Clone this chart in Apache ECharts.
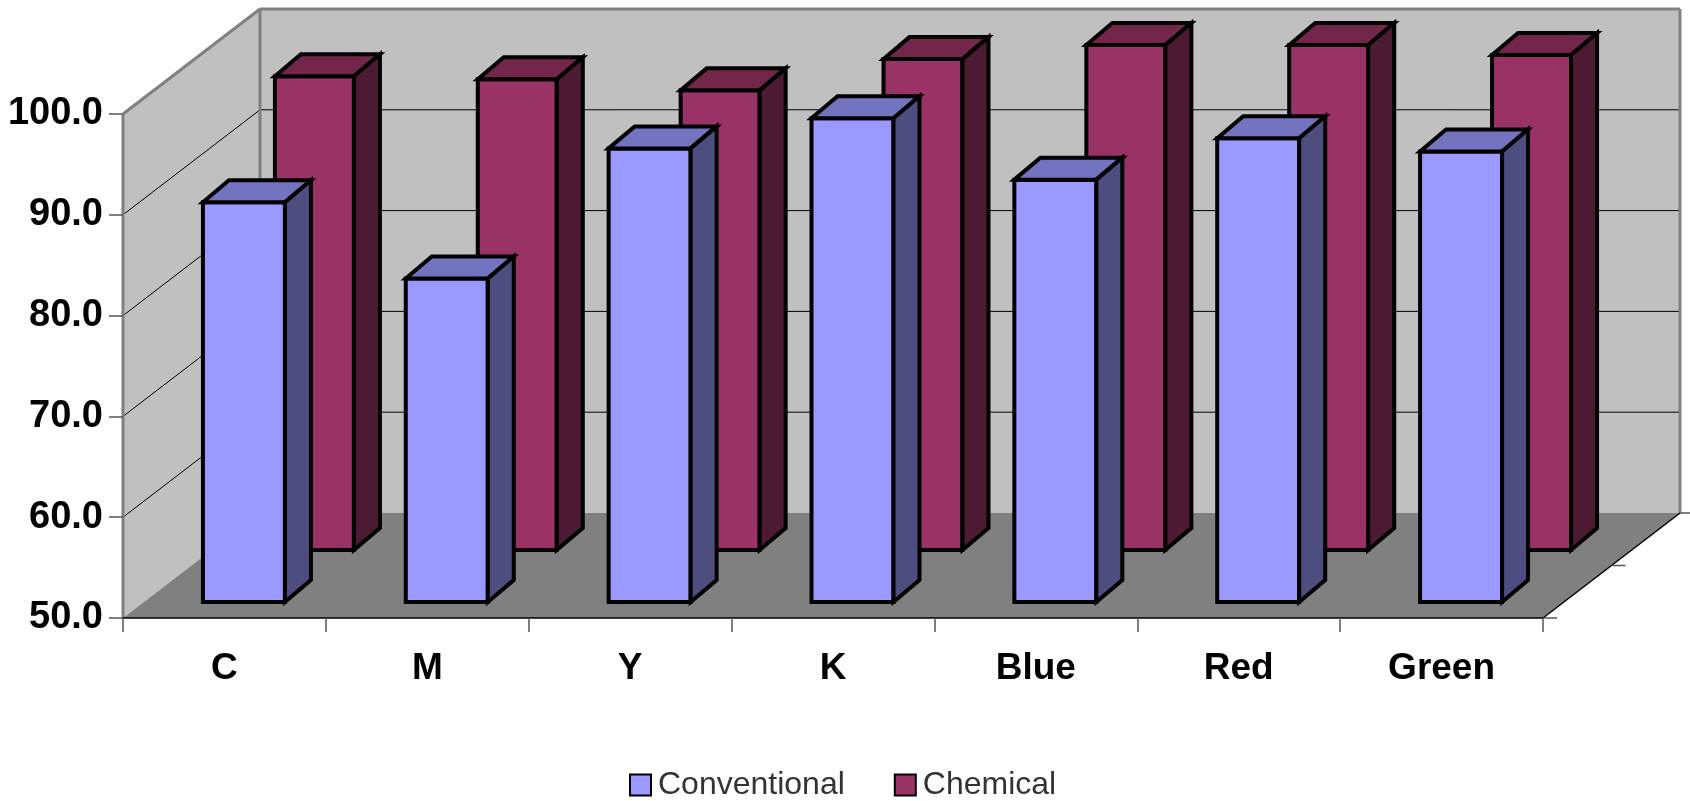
<!DOCTYPE html>
<html>
<head>
<meta charset="utf-8">
<title>Conventional vs Chemical</title>
<script src="https://cdn.jsdelivr.net/npm/echarts@6/dist/echarts.min.js"></script>
<style>
  html, body { margin: 0; padding: 0; background: #fff; }
  #chart { width: 1690px; height: 801px; }
</style>
</head>
<body>
<div id="chart"></div>
<script>
const categories = ['C', 'M', 'Y', 'K', 'Blue', 'Red', 'Green']
const conventional = [89.65, 82.1, 95.0, 98.0, 91.9, 96.0, 94.7]
const chemical = [97.0, 96.7, 95.6, 98.7, 100.1, 100.1, 99.1]
const yTicks = [50, 60, 70, 80, 90, 100]

// oblique projection of the fake 3D box, in pixels
const BACK = [137, -105]
const FACE = [26, -22]
const GREY = '#808080'

const chart = echarts.init(document.getElementById('chart'))

const line = (a, b, color, width) => ({
  type: 'line',
  shape: { x1: a[0], y1: a[1], x2: b[0], y2: b[1] },
  style: { stroke: color, lineWidth: width }
})

const poly = (points, fill, stroke, width) => ({
  type: 'polygon',
  shape: { points },
  style: { fill, stroke, lineWidth: width, lineJoin: 'miter' }
})

const back = p => [p[0] + BACK[0], p[1] + BACK[1]]

const renderWalls = (params, api) => {
  // category coords snap to band centres, so go half a band out from the first and last
  const band = api.size([1, 0])[0]
  const last = categories.length - 1
  const leftAt = v => { const p = api.coord([0, v]); return [p[0] - band / 2, p[1]] }
  const rightAt = v => { const p = api.coord([last, v]); return [p[0] + band / 2, p[1]] }
  const fl = leftAt(50)
  const tl = leftAt(100)
  const fr = rightAt(50)
  const tr = rightAt(100)
  const mid = [(fr[0] + back(fr)[0]) / 2, (fr[1] + back(fr)[1]) / 2]
  const children = [
    poly([fl, tl, back(tl), back(fl)], '#c0c0c0', 'none', 0),
    poly([back(fl), back(tl), back(tr), back(fr)], '#c0c0c0', 'none', 0),
    poly([fl, back(fl), back(fr), fr], GREY, 'none', 0)
  ]
  yTicks.slice(1, -1).forEach(t => {
    const a = leftAt(t)
    const b = rightAt(t)
    children.push(line(a, back(a), '#000', 1))
    children.push(line(back(a), back(b), '#000', 1))
  })
  children.push(line(fl, tl, GREY, 3))
  children.push(line(tl, back(tl), GREY, 3))
  children.push(line(back(fl), back(tl), GREY, 3))
  children.push(line(back(tl), back(tr), GREY, 3))
  children.push(line(back(tr), back(fr), GREY, 3))
  // floor edge on the right and its depth ticks
  children.push(line(fr, back(fr), '#000', 1.5))
  children.push(line(fr, [fr[0] + 14, fr[1]], '#555', 1.5))
  children.push(line(mid, [mid[0] + 14, mid[1]], '#555', 1.5))
  children.push(line(back(fr), [back(fr)[0] + 14, back(fr)[1]], '#555', 1.5))
  return { type: 'group', children }
}

const bar = (offset, width, colors) => (params, api) => {
  const i = api.value(0)
  const top = api.coord([i, api.value(1)])
  const base = api.coord([i, 50])
  const x0 = top[0] + offset[0] - width / 2
  const x1 = x0 + width
  const y0 = top[1] + offset[1]
  const y1 = base[1] + offset[1]
  return {
    type: 'group',
    children: [
      poly([[x0, y0], [x1, y0], [x1, y1], [x0, y1]], colors[0], '#000', 4),
      poly([[x0, y0], [x0 + FACE[0], y0 + FACE[1]], [x1 + FACE[0], y0 + FACE[1]], [x1, y0]], colors[1], '#000', 4),
      poly([[x1, y0], [x1 + FACE[0], y0 + FACE[1]], [x1 + FACE[0], y1 + FACE[1]], [x1, y1]], colors[2], '#000', 4)
    ]
  }
}

const option = {
  animation: false,
  backgroundColor: '#fff',
  textStyle: { fontFamily: '"Liberation Sans", Arial, sans-serif' },
  grid: { left: 123, top: 114, width: 1420, height: 504 },
  legend: {
    data: ['Conventional', 'Chemical'],
    left: 624,
    top: 764,
    itemWidth: 21,
    itemHeight: 21,
    itemGap: 49,
    icon: 'rect',
    itemStyle: { borderColor: '#000', borderWidth: 2 },
    textStyle: { fontSize: 32, color: '#333', padding: [0, 0, 0, 2] },
    selectedMode: false
  },
  xAxis: {
    type: 'category',
    data: categories,
    z: 5,
    axisLine: { lineStyle: { color: '#000', width: 1.5 } },
    axisTick: { show: true, interval: 0, length: 14, lineStyle: { color: '#555', width: 1.5 } },
    axisLabel: { fontSize: 37, fontWeight: 'bold', color: '#000', margin: 32, interval: 0 }
  },
  yAxis: {
    type: 'value',
    min: 50,
    max: 100,
    interval: 10,
    z: 5,
    axisLine: { show: false },
    axisTick: { show: true, length: 14, lineStyle: { color: '#555', width: 1.5 } },
    splitLine: { show: false },
    axisLabel: { fontSize: 38, fontWeight: 'bold', color: '#000', margin: 20, formatter: v => v.toFixed(1) }
  },
  series: [
    { name: 'Walls', type: 'custom', data: [[0, 50]], renderItem: renderWalls, silent: true, z: 1 },
    {
      name: 'Chemical',
      type: 'custom',
      data: chemical.map((v, i) => [i, v]),
      itemStyle: { color: '#993366' },
      renderItem: bar([90, -68], 79, ['#993366', '#732649', '#4d1a33']),
      z: 2
    },
    {
      name: 'Conventional',
      type: 'custom',
      data: conventional.map((v, i) => [i, v]),
      itemStyle: { color: '#9999ff' },
      renderItem: bar([19.5, -16], 82, ['#9999ff', '#7373bf', '#4d4d80']),
      z: 3
    }
  ]
}

chart.setOption(option)
</script>
</body>
</html>
